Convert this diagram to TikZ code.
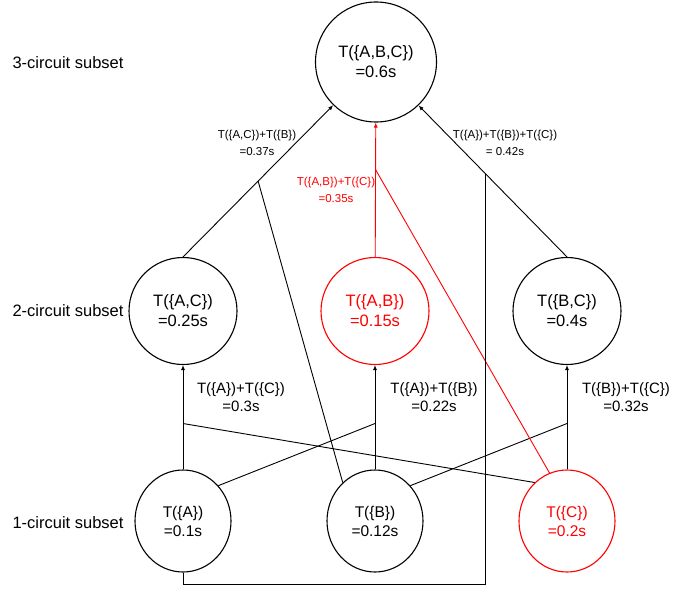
\documentclass[tikz,border=0pt]{standalone}
\usepackage{fontspec}
\setmainfont{Liberation Sans}
\usetikzlibrary{arrows.meta,shapes.geometric}

\definecolor{lineColor}{RGB}{0,0,0}
\definecolor{hotRed}{RGB}{255,0,0}

\begin{document}
\begin{tikzpicture}[
  x=1pt, y=-1pt,
  state/.style={draw=lineColor, line width=1.1pt, ellipse, inner sep=0pt, align=center, font=\fontsize{16.5}{20}\selectfont},
  triple/.style={state, minimum width=121pt, minimum height=120pt},
  pair/.style={state, minimum width=108pt, minimum height=107pt},
  single/.style={state, minimum width=96pt, minimum height=102pt, font=\fontsize{15.5}{19}\selectfont},
  wire/.style={draw=lineColor, line width=0.9pt},
  link/.style={wire, -{Latex[length=5pt,width=4pt]}},
  cost/.style={align=center, font=\fontsize{15}{18}\selectfont},
  smallcost/.style={align=center, font=\fontsize{11.5}{17}\selectfont},
  level/.style={anchor=west, font=\fontsize{16.5}{18}\selectfont},
  hot/.style={draw=hotRed, text=hotRed}
]

\useasboundingbox (0,0) rectangle (688,591);

% Subset levels
\node[level] (lvl3) at (9, 63) {3-circuit subset};
\node[level] (lvl2) at (9, 311) {2-circuit subset};
\node[level] (lvl1) at (9, 523) {1-circuit subset};

% Circuit subsets
\node[triple] (ABC) at (376, 62) {T(\{A,B,C\})\\=0.6s};

\node[pair] (AC) at (183, 311) {T(\{A,C\})\\=0.25s};
\node[pair, hot] (AB) at (375, 311) {T(\{A,B\})\\=0.15s};
\node[pair] (BC) at (567, 311) {T(\{B,C\})\\=0.4s};

\node[single] (A) at (183, 521) {T(\{A\})\\=0.1s};
\node[single] (B) at (375, 521) {T(\{B\})\\=0.12s};
\node[single, hot] (C) at (567, 521) {T(\{C\})\\=0.2s};

% 1-circuit -> 2-circuit
\draw[link] (A) -- coordinate[pos=0.44] (a2) (AC);
\draw[wire] (a2) -- (C.130);
\draw[link] (B) -- coordinate[pos=0.44] (b2) (AB);
\draw[wire] (b2) -- (A.45);
\draw[link] (C) -- coordinate[pos=0.44] (c2) (BC);
\draw[wire] (c2) -- (B.45);

% 2-circuit -> 3-circuit
\draw[link] (AC.north) -- coordinate[pos=0.5] (acb) (ABC);
\draw[wire] (acb) -- (B.130);
\draw[link, hot] (AB) -- coordinate[pos=0.65] (abc) (ABC);
\draw[wire, hot] (abc) -- (C.110);
\draw[link] (BC.north) -- coordinate[pos=0.55] (bca) (ABC);
\coordinate (floor) at (0, 584);
\draw[wire] (A.south) |- (bca |- floor) -- (bca);

% Costs
\node[cost] (cAC) at (241, 397) {T(\{A\})+T(\{C\})\\=0.3s};
\node[cost] (cAB) at (434, 397) {T(\{A\})+T(\{B\})\\=0.22s};
\node[cost] (cBC) at (626, 397) {T(\{B\})+T(\{C\})\\=0.32s};
\node[smallcost] (cACB) at (257, 143) {T(\{A,C\})+T(\{B\})\\=0.37s};
\node[smallcost, text=hotRed] (cABC) at (336, 190) {T(\{A,B\})+T(\{C\})\\=0.35s};
\node[smallcost] (cABCs) at (505, 143) {T(\{A\})+T(\{B\})+T(\{C\})\\= 0.42s};

\end{tikzpicture}
\end{document}
